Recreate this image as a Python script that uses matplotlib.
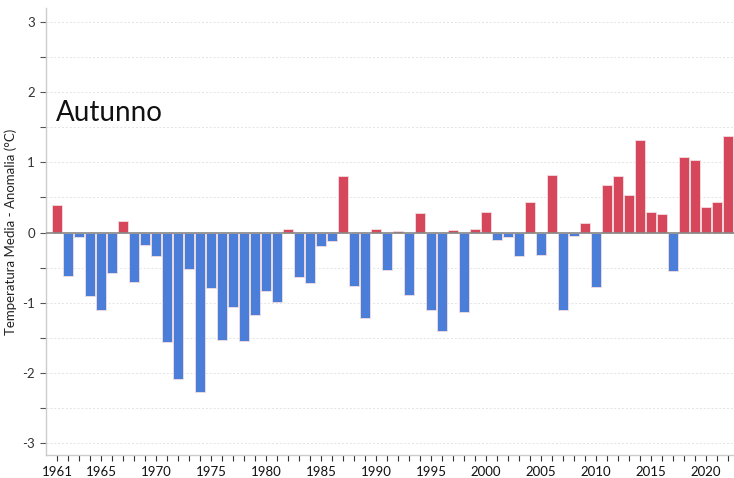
import matplotlib
matplotlib.use('Agg')
import matplotlib.pyplot as plt
from matplotlib.ticker import MultipleLocator, FixedLocator

# Anomalie autunnali della temperatura media (°C)
years = list(range(1961, 2023))
anomalies = [
    0.39, -0.62, -0.06, -0.91, -1.11, -0.58, 0.17, -0.70, -0.18, -0.34,
    -1.56, -2.09, -0.52, -2.27, -0.79, -1.53, -1.06, -1.54, -1.17, -0.83,
    -0.99, 0.05, -0.64, -0.72, -0.19, -0.12, 0.81, -0.76, -1.22, 0.05,
    -0.54, 0.02, -0.89, 0.28, -1.10, -1.40, 0.03, -1.13, 0.05, 0.30,
    -0.11, -0.07, -0.34, 0.44, -0.32, 0.82, -1.10, -0.05, 0.13, -0.78,
    0.68, 0.81, 0.54, 1.32, 0.30, 0.27, -0.55, 1.07, 1.04, 0.36,
    0.44, 1.38,
]
year_labels = [1961, 1965, 1970, 1975, 1980, 1985, 1990, 1995, 2000, 2005, 2010, 2015, 2020]

red = '#d6475b'
blue = '#4a7ed9'
colors = [red if v >= 0 else blue for v in anomalies]

plt.rcParams['font.family'] = ['Lato', 'DejaVu Sans']
plt.rcParams['axes.unicode_minus'] = False

fig = plt.figure(figsize=(7.34, 4.78), dpi=100)
ax = fig.add_axes([46 / 734, 23 / 478, 1 - 46 / 734, (455 - 8) / 478])

ax.bar(years, anomalies, width=0.86, color=colors, edgecolor='#f4dde0', linewidth=0.6, zorder=3)
ax.axhline(0, color='#888888', linewidth=1.2, zorder=4)

ax.set_xlim(1960.0, 2022.55)
ax.set_ylim(-3.17, 3.2)

# y axis: labels on integers, small ticks on half units
ax.yaxis.set_major_locator(MultipleLocator(1))
ax.yaxis.set_minor_locator(MultipleLocator(0.5))
ax.grid(axis='y', which='both', linestyle=(0, (2, 2)), color='#e4e4e4', linewidth=0.7, zorder=0)
ax.tick_params(axis='y', which='both', length=4, width=0.8, color='#555555', labelsize=9.5, labelcolor='#333333', pad=4)

# x axis: a tick every year, labels only on some
ax.xaxis.set_major_locator(FixedLocator(years))
ax.set_xticklabels([str(y) if y in year_labels else '' for y in years])
ax.tick_params(axis='x', length=4, width=0.8, color='#333333', labelsize=9.5, labelcolor='#111111', pad=4)

for side in ['top', 'right']:
    ax.spines[side].set_visible(False)
for side in ['left', 'bottom']:
    ax.spines[side].set_color('#cccccc')
    ax.spines[side].set_linewidth(1.0)

ax.set_ylabel('Temperatura Media - Anomalia (°C)', fontsize=9.5, color='#222222')
ax.yaxis.set_label_coords((17 - 46) / 688, 0.5)
ax.text(1960.9, 1.59, 'Autunno', fontsize=20, color='#111111', va='baseline', ha='left')

plt.savefig('out.png', dpi=100)
